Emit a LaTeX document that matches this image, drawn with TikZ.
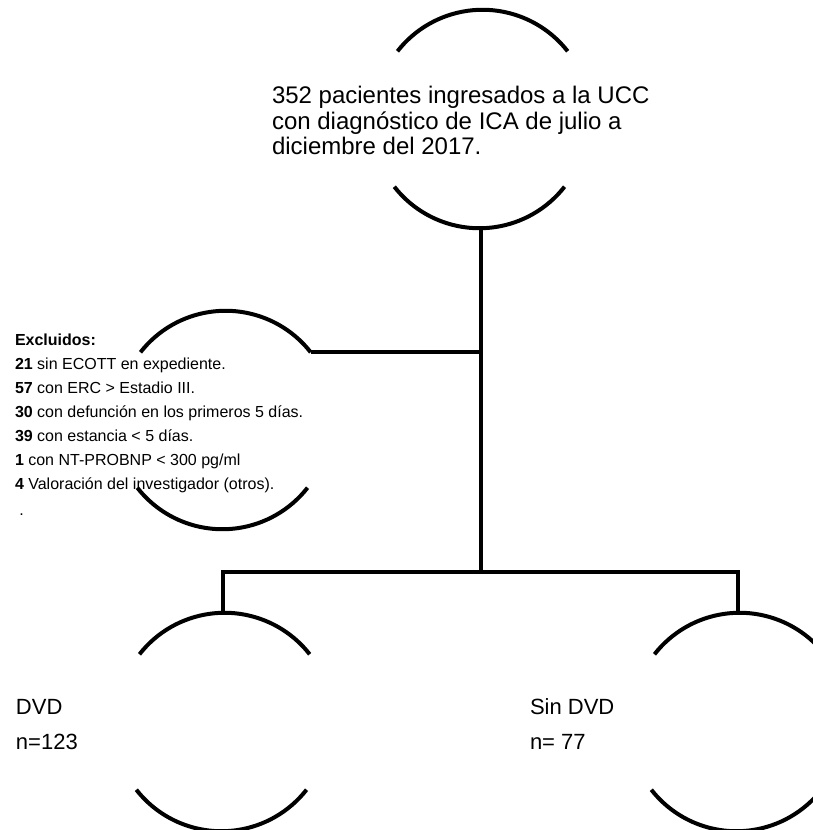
\documentclass[tikz,border=0pt]{standalone}
\usepackage{fontspec}
\setmainfont{Liberation Sans}
\usetikzlibrary{positioning}
\usetikzlibrary{calc}
\tikzset{every picture/.style={line width=4pt},ring/.style={circle,minimum size=216pt,inner sep=0pt},lbl/.style={inner sep=0pt,anchor=north west,align=left}}

\begin{document}
\begin{tikzpicture}[x=1pt, y=-1pt]
\useasboundingbox (0,0) rectangle (812,830);
\node (pac) at (481,119) [ring] {};
\node (excl) at (224,420) [ring] {};
\node (dvd) at (223,722) [ring] {};
\node (sdvd) at (738,722) [ring] {};
\foreach \c in {pac, excl, dvd, sdvd} {
\draw (\c.38) arc[start angle=38, end angle=142, radius=108pt];
\draw (\c.218) arc[start angle=218, end angle=322, radius=108pt];
}
\coordinate (split) at (481,572);
\draw (pac.south) -- (split);
\draw (excl.38) -- (excl.38 -| split);
\draw (dvd.north) |- (split) -| (sdvd.north);

\node (pactxt) at (270,84.5) [lbl, font=\fontsize{24}{25.5}\selectfont] {352 pacientes ingresados a la UCC\\con diagnóstico de ICA de julio a\\diciembre del 2017.};
\node (excltxt) at (13,331.5) [lbl, font=\fontsize{16}{24}\selectfont] {\textbf{Excluidos:}\\\textbf{21} sin ECOTT en expediente.\\\textbf{57} con ERC > Estadio III.\\\textbf{30} con defunción en los primeros 5 días.\\\textbf{39} con estancia < 5 días.\\\textbf{1} con NT-PROBNP < 300 pg/ml\\\textbf{4} Valoración del investigador (otros).\\[2pt]\hspace{4.4pt}.};
\node (dvdtxt) at (14,697) [lbl, font=\fontsize{22}{35}\selectfont] {DVD\\n=123};
\node (sdvdtxt) at (528,697) [lbl, font=\fontsize{22}{35}\selectfont] {Sin DVD\\n= 77};
\end{tikzpicture}
\end{document}
